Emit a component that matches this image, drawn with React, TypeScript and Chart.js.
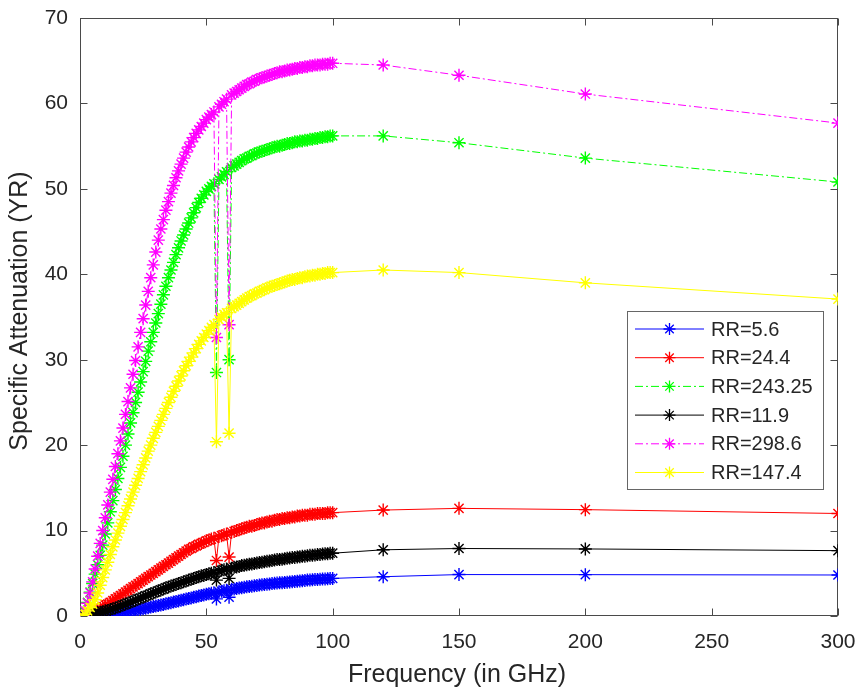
import React, { useEffect, useRef } from 'react';
import { Chart, registerables } from 'chart.js';

Chart.register(...registerables);

const FONT = "'Liberation Sans', Arial, Helvetica, sans-serif";
const TEXT = '#262626';
const AXIS = '#4a4a4a';

// Frequency (GHz)
const freq = [
  1, 2, 3, 4, 5, 6, 7, 8, 9, 10,
  11, 12, 13, 14, 15, 16, 17, 18, 19, 20,
  21, 22, 23, 24, 25, 26, 27, 28, 29, 30,
  31, 32, 33, 34, 35, 36, 37, 38, 39, 40,
  41, 42, 43, 44, 45, 46, 47, 48, 49, 50,
  51, 52, 53, 54, 55, 56, 57, 58, 59, 60,
  61, 62, 63, 64, 65, 66, 67, 68, 69, 70,
  71, 72, 73, 74, 75, 76, 77, 78, 79, 80,
  81, 82, 83, 84, 85, 86, 87, 88, 89, 90,
  91, 92, 93, 94, 95, 96, 97, 98, 99, 100,
  120, 150, 200, 300,
];

const xTicks = [0, 50, 100, 150, 200, 250, 300];
const yTicks = [0, 10, 20, 30, 40, 50, 60, 70];

const seriesLabels = ['RR=5.6', 'RR=24.4', 'RR=243.25', 'RR=11.9', 'RR=298.6', 'RR=147.4'];

const rr5_6 = [
  0.0, 0.0, 0.02, 0.04, 0.06, 0.08, 0.1, 0.12, 0.15, 0.18,
  0.21, 0.24, 0.28, 0.32, 0.36, 0.4, 0.45, 0.5, 0.55, 0.6,
  0.65, 0.7, 0.75, 0.8, 0.86, 0.92, 0.98, 1.04, 1.1, 1.16,
  1.22, 1.28, 1.35, 1.42, 1.49, 1.56, 1.63, 1.7, 1.77, 1.84,
  1.91, 1.98, 2.05, 2.12, 2.19, 2.26, 2.33, 2.4, 2.47, 2.54,
  2.6, 2.66, 2.72, 2.0, 2.84, 2.9, 2.96, 3.02, 2.2, 3.12,
  3.17, 3.22, 3.27, 3.32, 3.37, 3.41, 3.45, 3.49, 3.53, 3.57,
  3.62, 3.66, 3.7, 3.73, 3.76, 3.79, 3.82, 3.85, 3.88, 3.9,
  3.93, 3.96, 3.99, 4.02, 4.05, 4.08, 4.11, 4.14, 4.17, 4.2,
  4.22, 4.24, 4.26, 4.28, 4.3, 4.32, 4.34, 4.36, 4.38, 4.4,
  4.6, 4.85, 4.84, 4.8,
];

const rr24_4 = [
  0.0, 0.1, 0.2, 0.3, 0.5, 0.6, 0.8, 0.9, 1.1, 1.3,
  1.4, 1.6, 1.8, 2.0, 2.2, 2.4, 2.6, 2.8, 3.0, 3.2,
  3.4, 3.6, 3.8, 4.0, 4.2, 4.4, 4.6, 4.8, 5.0, 5.2,
  5.4, 5.6, 5.8, 6.0, 6.2, 6.4, 6.6, 6.8, 7.0, 7.2,
  7.4, 7.6, 7.8, 7.9, 8.1, 8.2, 8.4, 8.5, 8.6, 8.8,
  8.9, 9.0, 9.1, 6.5, 9.3, 9.4, 9.5, 9.6, 6.9, 9.8,
  9.9, 10.0, 10.1, 10.2, 10.3, 10.4, 10.5, 10.5, 10.6, 10.7,
  10.8, 10.9, 10.9, 11.0, 11.1, 11.1, 11.2, 11.3, 11.3, 11.4,
  11.4, 11.5, 11.5, 11.6, 11.6, 11.7, 11.7, 11.8, 11.8, 11.8,
  11.9, 11.9, 11.9, 12.0, 12.0, 12.0, 12.0, 12.1, 12.1, 12.1,
  12.4, 12.6, 12.45, 12.0,
];

const rr243_25 = [
  0.0, 0.5, 1.6, 2.8, 3.8, 4.9, 6.0, 7.1, 8.3, 9.6,
  10.9, 12.2, 13.5, 14.8, 16.1, 17.4, 18.7, 20.0, 21.3, 22.6,
  23.8, 25.0, 26.2, 27.4, 28.6, 29.8, 31.0, 32.1, 33.2, 34.3,
  35.4, 36.5, 37.6, 38.6, 39.6, 40.5, 41.4, 42.3, 43.1, 43.9,
  44.6, 45.3, 46.0, 46.6, 47.2, 47.8, 48.4, 48.9, 49.3, 49.7,
  50.0, 50.3, 50.6, 28.5, 51.1, 51.4, 51.7, 52.0, 30.0, 52.5,
  52.7, 52.9, 53.1, 53.3, 53.5, 53.6, 53.8, 53.9, 54.1, 54.2,
  54.3, 54.4, 54.5, 54.6, 54.7, 54.8, 54.9, 55.0, 55.0, 55.1,
  55.2, 55.3, 55.3, 55.4, 55.5, 55.5, 55.6, 55.6, 55.7, 55.7,
  55.8, 55.8, 55.9, 55.9, 56.0, 56.0, 56.1, 56.1, 56.2, 56.2,
  56.2, 55.4, 53.6, 50.8,
];

const rr11_9 = [
  0.0, 0.05, 0.1, 0.2, 0.25, 0.3, 0.4, 0.45, 0.5, 0.6,
  0.65, 0.75, 0.85, 0.95, 1.05, 1.15, 1.3, 1.4, 1.5, 1.6,
  1.75, 1.85, 2.0, 2.1, 2.2, 2.35, 2.45, 2.6, 2.7, 2.8,
  2.95, 3.05, 3.15, 3.3, 3.4, 3.5, 3.6, 3.7, 3.8, 3.9,
  4.0, 4.1, 4.2, 4.3, 4.4, 4.5, 4.6, 4.7, 4.75, 4.85,
  4.95, 5.0, 5.1, 4.2, 5.25, 5.35, 5.4, 5.5, 4.4, 5.6,
  5.7, 5.75, 5.8, 5.9, 5.95, 6.0, 6.05, 6.1, 6.15, 6.2,
  6.25, 6.3, 6.35, 6.4, 6.45, 6.5, 6.55, 6.6, 6.6, 6.65,
  6.7, 6.75, 6.8, 6.85, 6.85, 6.9, 6.95, 7.0, 7.0, 7.05,
  7.1, 7.1, 7.15, 7.2, 7.2, 7.25, 7.3, 7.3, 7.35, 7.35,
  7.75, 7.9, 7.85, 7.65,
];

const rr298_6 = [
  0.0, 0.6, 1.5, 2.7, 4.0, 5.5, 7.0, 8.5, 10.0, 11.5,
  13.0, 14.5, 16.0, 17.5, 19.0, 20.5, 22.0, 23.6, 25.1, 26.7,
  28.3, 29.9, 31.5, 33.2, 34.8, 36.4, 38.0, 39.6, 41.1, 42.6,
  44.0, 45.3, 46.4, 47.5, 48.5, 49.5, 50.4, 51.3, 52.1, 52.9,
  53.6, 54.3, 54.9, 55.5, 56.0, 56.5, 56.9, 57.3, 57.7, 58.1,
  58.4, 58.7, 59.0, 32.6, 59.6, 59.9, 60.2, 60.5, 34.1, 61.0,
  61.2, 61.4, 61.6, 61.8, 62.0, 62.2, 62.3, 62.5, 62.6, 62.8,
  62.9, 63.0, 63.1, 63.2, 63.3, 63.4, 63.5, 63.6, 63.7, 63.7,
  63.8, 63.9, 63.9, 64.0, 64.1, 64.1, 64.2, 64.2, 64.3, 64.3,
  64.4, 64.4, 64.5, 64.5, 64.5, 64.6, 64.6, 64.6, 64.7, 64.7,
  64.5, 63.3, 61.1, 57.7,
];

const rr147_4 = [
  0.0, 0.2, 0.6, 1.0, 1.4, 1.9, 2.7, 3.6, 4.5, 5.4,
  6.3, 7.2, 8.1, 8.9, 9.7, 10.5, 11.3, 12.1, 12.9, 13.7,
  14.5, 15.3, 16.1, 16.9, 17.7, 18.5, 19.3, 20.0, 20.8, 21.5,
  22.2, 22.9, 23.6, 24.3, 25.0, 25.6, 26.3, 26.9, 27.5, 28.1,
  28.7, 29.3, 29.8, 30.3, 30.8, 31.3, 31.8, 32.2, 32.6, 33.0,
  33.4, 33.8, 34.1, 20.4, 34.7, 35.0, 35.3, 35.5, 21.4, 36.0,
  36.2, 36.4, 36.6, 36.8, 37.0, 37.2, 37.4, 37.5, 37.7, 37.8,
  38.0, 38.1, 38.2, 38.4, 38.5, 38.6, 38.7, 38.8, 38.9, 39.0,
  39.1, 39.2, 39.3, 39.4, 39.4, 39.5, 39.6, 39.6, 39.7, 39.8,
  39.8, 39.9, 39.9, 40.0, 40.0, 40.1, 40.1, 40.2, 40.2, 40.2,
  40.5, 40.2, 39.0, 37.1,
];

const seriesValues = [rr5_6, rr24_4, rr243_25, rr11_9, rr298_6, rr147_4];
const seriesColors = ['#0000ff', '#ff0000', '#00ff00', '#000000', '#ff00ff', '#ffff00'];
const DASHDOT = [8, 3, 2, 3];
const seriesDash = [[], [], DASHDOT, [], DASHDOT, []];

function drawStar(ctx: CanvasRenderingContext2D, cx: number, cy: number, r: number) {
  ctx.beginPath();
  for (let k = 0; k < 4; k++) {
    const a = (k * Math.PI) / 4;
    const dx = Math.cos(a) * r;
    const dy = Math.sin(a) * r;
    ctx.moveTo(cx - dx, cy - dy);
    ctx.lineTo(cx + dx, cy + dy);
  }
  ctx.stroke();
}

const framePlugin = {
  id: 'matlabFrame',
  beforeDatasetsDraw(chart: any) {
    const { ctx, chartArea, scales } = chart;
    const L = Math.round(chartArea.left) + 0.5;
    const R = Math.round(chartArea.right) - 0.5;
    const T = Math.round(chartArea.top) + 0.5;
    const B = Math.round(chartArea.bottom) - 0.5;
    const tl = 7;
    ctx.save();
    ctx.strokeStyle = AXIS;
    ctx.lineWidth = 1;
    ctx.setLineDash([]);
    ctx.strokeRect(L, T, R - L, B - T);
    ctx.beginPath();
    for (const v of xTicks) {
      const px = Math.round(scales.x.getPixelForValue(v)) + 0.5;
      ctx.moveTo(px, B);
      ctx.lineTo(px, B - tl);
      ctx.moveTo(px, T);
      ctx.lineTo(px, T + tl);
    }
    for (const v of yTicks) {
      const py = Math.round(scales.y.getPixelForValue(v)) + 0.5;
      ctx.moveTo(L, py);
      ctx.lineTo(L + tl, py);
      ctx.moveTo(R, py);
      ctx.lineTo(R - tl, py);
    }
    ctx.stroke();
    ctx.restore();
  },
  afterDraw(chart: any) {
    const { ctx, chartArea } = chart;
    ctx.save();
    // axis titles
    ctx.fillStyle = TEXT;
    ctx.font = `25px ${FONT}`;
    ctx.textAlign = 'center';
    ctx.textBaseline = 'middle';
    ctx.fillText('Frequency (in GHz)', (chartArea.left + chartArea.right) / 2 - 2, 675);
    ctx.save();
    ctx.translate(20.5, (chartArea.top + chartArea.bottom) / 2 - 6);
    ctx.rotate(-Math.PI / 2);
    ctx.fillText('Specific Attenuation (YR)', 0, 0);
    ctx.restore();

    // legend
    const bx = 627.5, by = 311.5, bw = 196, bh = 178;
    ctx.fillStyle = '#ffffff';
    ctx.fillRect(bx, by, bw, bh);
    ctx.strokeStyle = '#666666';
    ctx.lineWidth = 1;
    ctx.setLineDash([]);
    ctx.strokeRect(bx, by, bw, bh);
    ctx.font = `20px ${FONT}`;
    ctx.textAlign = 'left';
    ctx.textBaseline = 'middle';
    for (let i = 0; i < seriesLabels.length; i++) {
      const y = 329 + i * 28.7;
      ctx.strokeStyle = seriesColors[i];
      ctx.lineWidth = 1;
      ctx.setLineDash(seriesDash[i]);
      ctx.beginPath();
      ctx.moveTo(635, y);
      ctx.lineTo(704, y);
      ctx.stroke();
      ctx.setLineDash([]);
      ctx.lineWidth = 1.3;
      drawStar(ctx, 669.5, y, 6);
      ctx.fillStyle = TEXT;
      ctx.fillText(seriesLabels[i], 711, y + 1);
    }
    ctx.restore();
  },
};

export default function App() {
  const canvasRef = useRef<HTMLCanvasElement | null>(null);

  useEffect(() => {
    const canvas = canvasRef.current;
    if (!canvas) return;
    const datasets = seriesValues.map((vals, i) => ({
      label: seriesLabels[i],
      data: freq.map((f, j) => ({ x: f, y: vals[j] })),
      borderColor: seriesColors[i],
      backgroundColor: seriesColors[i],
      pointBorderColor: seriesColors[i],
      pointBackgroundColor: seriesColors[i],
      borderWidth: 1,
      borderDash: seriesDash[i],
      pointStyle: 'star',
      pointRadius: 6.5,
      pointBorderWidth: 1.4,
      pointHoverRadius: 6.5,
      tension: 0,
      fill: false,
      order: -i,
    }));

    const chart = new Chart(canvas, {
      type: 'line',
      data: { datasets },
      options: {
        animation: false,
        responsive: false,
        devicePixelRatio: 1,
        events: [],
        layout: { padding: { top: 18, right: 19, left: 0, bottom: 0 } },
        plugins: {
          legend: { display: false },
          tooltip: { enabled: false },
          title: { display: false },
        },
        scales: {
          x: {
            type: 'linear',
            min: 0,
            max: 300,
            afterFit: (s: any) => {
              s.height = 72;
              s.paddingLeft = 0;
              s.paddingRight = 0;
            },
            afterBuildTicks: (s: any) => {
              s.ticks = xTicks.map((v) => ({ value: v }));
            },
            grid: { display: false, drawTicks: false },
            border: { display: false },
            ticks: {
              color: TEXT,
              font: { family: FONT, size: 21 },
              padding: 14,
              maxRotation: 0,
              autoSkip: false,
            },
          },
          y: {
            type: 'linear',
            min: 0,
            max: 70,
            afterFit: (s: any) => {
              s.width = 80;
              s.paddingTop = 0;
              s.paddingBottom = 0;
            },
            afterBuildTicks: (s: any) => {
              s.ticks = yTicks.map((v) => ({ value: v }));
            },
            grid: { display: false, drawTicks: false },
            border: { display: false },
            ticks: {
              color: TEXT,
              font: { family: FONT, size: 21 },
              padding: 12,
              autoSkip: false,
            },
          },
        },
      },
      plugins: [framePlugin],
    });

    return () => {
      chart.destroy();
    };
  }, []);

  return (
    <div style={{ position: 'fixed', left: 0, top: 0, width: 857, height: 688, background: '#ffffff' }}>
      <canvas ref={canvasRef} width={857} height={688} style={{ display: 'block', width: 857, height: 688 }} />
    </div>
  );
}
